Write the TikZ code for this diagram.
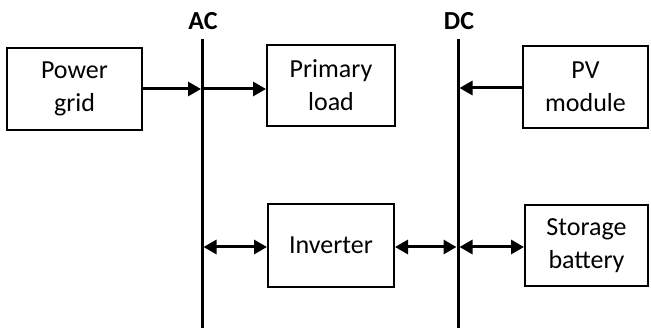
\documentclass[tikz,border=0pt]{standalone}
\usepackage{fontspec}
\setmainfont{Carlito}
\usetikzlibrary{arrows.meta}
\begin{document}
\begin{tikzpicture}[x=1pt,y=-1pt,
  blk/.style={draw,line width=2pt,inner sep=0pt,align=center,font=\fontsize{26}{33}\selectfont},
  bus/.style={line width=3pt},
  lnk/.style={line width=3pt,-{Triangle[length=13pt,width=14pt]}},
  blnk/.style={line width=3pt,{Triangle[length=13pt,width=14pt]}-{Triangle[length=13pt,width=14pt]}},
  lbl/.style={font=\fontsize{26}{30}\selectfont\bfseries}]
\useasboundingbox (0,0) rectangle (651,328);
\node[blk,minimum width=135pt,minimum height=82pt] (grid) at (74.5,89) {Power\\grid};
\node[blk,minimum width=128pt,minimum height=81pt] (load) at (331,85.5) {Primary\\load};
\node[blk,minimum width=125pt,minimum height=82pt] (pv) at (585.5,87) {PV\\module};
\node[blk,minimum width=126pt,minimum height=83pt] (inv) at (331,245.5) {Inverter};
\node[blk,minimum width=123pt,minimum height=81pt] (bat) at (586.5,245.5) {Storage\\battery};
\coordinate (actop) at (202,39);
\coordinate (acbot) at (202,328);
\coordinate (dctop) at (458,39);
\coordinate (dcbot) at (458,328);
\draw[bus] (actop) -- (acbot);
\draw[bus] (dctop) -- (dcbot);
\node[lbl,anchor=base] (ac) at (203,30) {AC};
\node[lbl,anchor=base] (dc) at (459,30) {DC};
\coordinate (acg) at (201,89);
\coordinate (acl) at (203,89);
\coordinate (dcp) at (459.5,88);
\coordinate (aci) at (203.5,247);
\coordinate (dci) at (456.5,247);
\coordinate (dcb) at (459.5,247);
\draw[lnk] (grid.east |- acg) -- (acg);
\draw[lnk] (acl) -- (load.west |- acl);
\draw[lnk] (pv.west |- dcp) -- (dcp);
\draw[blnk] (aci) -- (inv.west |- aci);
\draw[blnk] (inv.east |- dci) -- (dci);
\draw[blnk] (dcb) -- (bat.west |- dcb);
\end{tikzpicture}
\end{document}
